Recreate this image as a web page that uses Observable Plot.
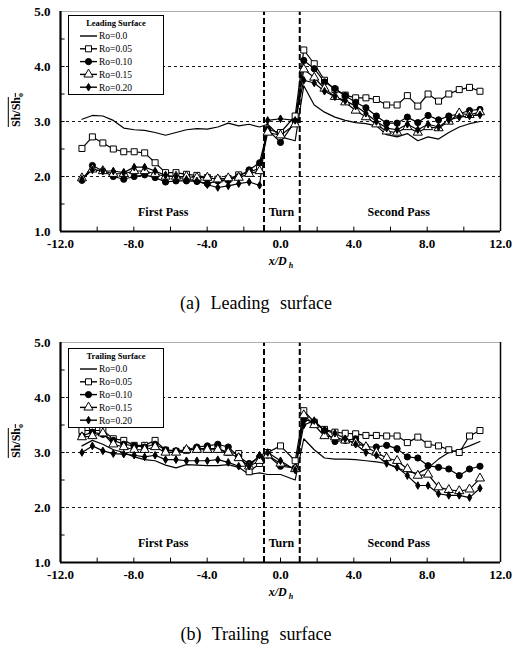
<!DOCTYPE html>
<html><head><meta charset="utf-8">
<script src="https://cdn.jsdelivr.net/npm/d3@7"></script>
<script src="https://cdn.jsdelivr.net/npm/@observablehq/plot@0.6"></script>
<style>
body{margin:0;background:#fff;}
#page{position:relative;width:513px;height:650px;background:#fff;font-family:"Liberation Serif","DejaVu Serif",serif;color:#000;overflow:hidden}
.panel{position:absolute;left:0;width:513px;height:271px}
.ylab{position:absolute;font-weight:bold;font-size:12px;white-space:nowrap;transform:translate(-50%,-50%) rotate(-90deg);}
.ylab span{text-decoration:overline}
.ylab sub{font-size:8px}
.xlab{position:absolute;font-weight:bold;font-style:italic;font-size:12px;transform:translate(-50%,-50%);white-space:nowrap}
.xlab sub{font-size:8px}
.cap{position:absolute;font-size:18px;word-spacing:6px;transform:translateX(-50%);white-space:nowrap}
</style></head><body><div id="page"></div>
<script>
// ---------- data ----------
const xPositions = [-10.83,-10.26,-9.69,-9.12,-8.55,-7.98,-7.41,-6.84,-6.27,-5.70,-5.13,-4.56,-3.99,-3.42,-2.85,-2.28,-1.71,-1.14,
  -0.70,0.00,0.80,
  1.27,1.84,2.40,2.97,3.53,4.10,4.66,5.23,5.79,6.36,6.92,7.49,8.05,8.62,9.18,9.75,10.31,10.88];
const seriesLabels = ["Ro=0.0","Ro=0.05","Ro=0.10","Ro=0.15","Ro=0.20"];

const leadingRo000 = [3.04,3.11,3.10,3.02,2.88,2.85,2.84,2.80,2.75,2.80,2.85,2.87,2.86,2.90,2.97,2.92,2.95,2.90,
  2.95,2.72,2.65,
  3.65,3.30,3.17,3.08,3.02,2.98,2.96,2.92,2.76,2.72,2.78,2.65,2.72,2.68,2.80,2.90,2.96,3.00];
const leadingRo005 = [2.51,2.72,2.61,2.50,2.45,2.45,2.43,2.25,2.07,2.07,2.04,2.02,1.98,1.95,1.96,2.03,2.08,2.15,
  2.85,2.80,3.10,
  4.30,4.05,3.75,3.58,3.48,3.43,3.43,3.40,3.30,3.30,3.47,3.28,3.50,3.37,3.50,3.58,3.62,3.55];
const leadingRo010 = [1.93,2.20,2.10,2.00,1.95,2.00,2.03,1.98,1.90,1.92,1.92,1.91,1.87,1.92,1.93,2.00,2.12,2.25,
  2.85,2.62,3.00,
  4.11,3.96,3.72,3.60,3.47,3.35,3.25,3.10,2.97,2.97,3.08,2.98,3.11,3.03,3.10,3.14,3.20,3.22];
const leadingRo015 = [1.97,2.13,2.10,2.05,2.05,2.10,2.10,2.05,2.00,2.00,2.00,1.98,1.98,1.95,1.97,1.98,2.05,2.10,
  2.80,2.75,2.95,
  3.95,3.80,3.60,3.45,3.35,3.20,3.08,2.95,2.82,2.80,2.90,2.80,2.90,2.88,3.00,3.15,3.12,3.17];
const leadingRo020 = [1.95,2.12,2.10,2.10,2.07,2.17,2.17,2.10,2.02,2.00,1.95,1.92,1.85,1.80,1.83,1.87,1.90,1.84,
  3.02,3.05,3.02,
  3.75,3.70,3.55,3.45,3.38,3.28,3.15,3.00,2.88,2.85,2.95,2.85,2.95,2.90,3.03,3.08,3.10,3.12];

const trailingRo000 = [3.12,3.22,3.15,3.05,3.00,2.92,2.87,2.85,2.77,2.72,2.78,2.77,2.76,2.76,2.78,2.73,2.60,2.63,
  2.60,2.60,2.50,
  3.25,3.05,2.90,2.88,2.88,2.87,2.85,2.83,2.80,2.72,2.65,2.62,2.72,2.88,3.00,3.05,3.12,3.20];
const trailingRo005 = [3.40,3.40,3.40,3.25,3.22,3.13,3.13,3.22,3.04,3.02,3.04,3.07,3.07,3.07,3.00,2.98,2.65,2.80,
  3.00,3.12,2.85,
  3.76,3.55,3.42,3.37,3.35,3.34,3.31,3.31,3.30,3.30,3.18,3.28,3.15,3.12,3.05,3.00,3.30,3.40];
const trailingRo010 = [3.30,3.37,3.33,3.22,3.15,3.12,3.10,3.15,3.05,3.03,3.05,3.10,3.12,3.15,3.10,2.92,2.80,2.92,
  2.95,2.75,2.72,
  3.60,3.55,3.40,3.20,3.22,3.25,3.10,3.10,3.13,3.07,2.92,2.90,2.76,2.73,2.70,2.58,2.70,2.75];
const trailingRo015 = [3.28,3.30,3.35,3.15,3.10,3.05,3.05,3.10,3.00,3.00,3.05,3.05,3.05,3.05,3.00,2.90,2.75,2.85,
  2.95,2.80,2.70,
  3.68,3.50,3.30,3.28,3.22,3.18,3.10,3.00,2.90,2.85,2.70,2.58,2.60,2.37,2.32,2.30,2.33,2.53];
const trailingRo020 = [3.00,3.12,3.03,2.98,2.97,2.95,2.92,2.95,2.87,2.87,2.85,2.85,2.85,2.87,2.82,2.75,2.75,2.95,
  3.00,2.85,2.68,
  3.50,3.58,3.40,3.35,3.25,3.15,3.00,2.95,2.80,2.73,2.58,2.40,2.40,2.25,2.22,2.22,2.18,2.35];

const xTickValues = [-12,-8,-4,0,4,8,12];
const xMinorTicks = [-10,-8,-6,-4,-2,0,2,4,6,8,10];
const yTickValues = [1,2,3,4,5];
const yMinorTicks = [1.5,2,2.5,3,3.5,4,4.5];
const gridLevels = [2,3,4];
const sectionBounds = [-0.9,1.05];
const sectionNames = ["First Pass","Turn","Second Pass"];
const sectionCenters = [-6.4,0.05,6.45];
const sectionLabelLevel = [1.36,1.36,1.36];

// ---------- styles per series ----------
const seriesStyle = {
  "Ro=0.0":  null,
  "Ro=0.05": {symbol:"square",   fill:"white", r:3.4},
  "Ro=0.10": {symbol:"circle",   fill:"black", r:3.1},
  "Ro=0.15": {symbol:"triangle", fill:"white", r:3.4},
  "Ro=0.20": {symbol:"diamond",  fill:"black", r:2.3}
};
const d3Sym = {square:d3.symbolSquare, circle:d3.symbolCircle, triangle:d3.symbolTriangle, diamond:d3.symbolDiamond};
const FONT = "'Liberation Serif','DejaVu Serif',serif";

const page = document.getElementById("page");

function makePanel(valueArrays, legendTitle, top, caption) {
  const rows = [];
  seriesLabels.forEach((s, i) => valueArrays[i].forEach((v, j) => rows.push({series: s, x: xPositions[j], y: v})));
  const sections = sectionNames.map((name, i) => ({name, x: sectionCenters[i], y: sectionLabelLevel[i]}));

  const dotMarks = seriesLabels.filter(s => seriesStyle[s]).map(s => {
    const st = seriesStyle[s];
    return Plot.dot(rows.filter(d => d.series === s), {x: "x", y: "y", symbol: st.symbol, fill: st.fill, stroke: "black", strokeWidth: 1, r: st.r});
  });

  const chart = Plot.plot({
    width: 513, height: 271,
    marginTop: 11, marginLeft: 60, marginRight: 13, marginBottom: 40,
    x: {domain: [-12, 12], axis: null},
    y: {domain: [1, 5], axis: null},
    style: {fontFamily: FONT, background: "white", color: "black"},
    marks: [
      Plot.ruleY(gridLevels, {stroke: "black", strokeWidth: 0.9, strokeDasharray: "3,3"}),
      Plot.ruleX(sectionBounds, {y1: 1, y2: 5, stroke: "black", strokeWidth: 2, strokeDasharray: "6,3"}),
      Plot.ruleX(xMinorTicks, {y1: 1, y2: 1.08, stroke: "black", strokeWidth: 1}),
      Plot.ruleY(yMinorTicks, {x1: -12, x2: -11.75, stroke: "black", strokeWidth: 1}),
      Plot.ruleY([5], {stroke: "#999", strokeWidth: 0.8}),
      Plot.ruleX([12], {stroke: "black", strokeWidth: 1.5}),
      Plot.ruleX([-12], {stroke: "black", strokeWidth: 2.2}),
      Plot.ruleY([1], {stroke: "black", strokeWidth: 2.2}),
      Plot.line(rows, {x: "x", y: "y", z: "series", stroke: "black", strokeWidth: 1.2}),
      ...dotMarks,
      Plot.text(sections, {x: "x", y: "y", text: "name", fontSize: 12, fontWeight: "bold", fill: "black"}),
      Plot.axisX({ticks: xTickValues, tickSize: 0, tickPadding: 7, label: null, tickFormat: d => d.toFixed(1), fontSize: 13, fontWeight: "bold", fill: "black"}),
      Plot.axisY({ticks: yTickValues, tickSize: 0, tickPadding: 10, label: null, tickFormat: d => d.toFixed(1), fontSize: 13, fontWeight: "bold", fill: "black"})
    ]
  });

  const panel = document.createElement("div");
  panel.className = "panel";
  panel.style.top = top + "px";
  panel.appendChild(chart);
  page.appendChild(panel);

  // legend
  const lg = d3.select(panel).append("svg")
    .style("position", "absolute").style("left", "68px").style("top", (top === 0 ? 4 : 6) + 11 + "px")
    .attr("width", 96).attr("height", 81)
    .style("font-family", FONT);
  lg.append("rect").attr("x", 0.5).attr("y", 0.5).attr("width", 95).attr("height", 79).attr("fill", "white").attr("stroke", "black").attr("stroke-width", 1);
  lg.append("text").attr("x", 48).attr("y", 11).attr("text-anchor", "middle").attr("font-size", 8.5).attr("font-weight", "bold").text(legendTitle);
  seriesLabels.forEach((s, i) => {
    const yy = 21 + i * 12.8;
    lg.append("line").attr("x1", 12).attr("x2", 29).attr("y1", yy).attr("y2", yy).attr("stroke", "black").attr("stroke-width", 1.4);
    const st = seriesStyle[s];
    if (st) {
      lg.append("path").attr("transform", `translate(20.5,${yy})`)
        .attr("d", d3.symbol(d3Sym[st.symbol], Math.PI * st.r * st.r)())
        .attr("fill", st.fill).attr("stroke", "black");
    }
    lg.append("text").attr("x", 31).attr("y", yy + 3.3).attr("font-size", 9.5).text(s);
  });

  // y label
  const yl = document.createElement("div");
  yl.className = "ylab";
  yl.style.left = "17px"; yl.style.top = "110px";
  yl.innerHTML = "<span>Sh/Sh<sub>o</sub></span>";
  panel.appendChild(yl);

  // x label
  const xl = document.createElement("div");
  xl.className = "xlab";
  xl.style.left = "281px"; xl.style.top = "262px";
  xl.innerHTML = "x/D<sub> h</sub>";
  panel.appendChild(xl);

  // caption
  const cap = document.createElement("div");
  cap.className = "cap";
  cap.style.left = "256px"; cap.style.top = (top + 293) + "px";
  cap.textContent = caption;
  page.appendChild(cap);
}

makePanel([leadingRo000, leadingRo005, leadingRo010, leadingRo015, leadingRo020], "Leading Surface", 0, "(a) Leading surface");
makePanel([trailingRo000, trailingRo005, trailingRo010, trailingRo015, trailingRo020], "Trailing Surface", 331, "(b) Trailing surface");
</script>
</body></html>
